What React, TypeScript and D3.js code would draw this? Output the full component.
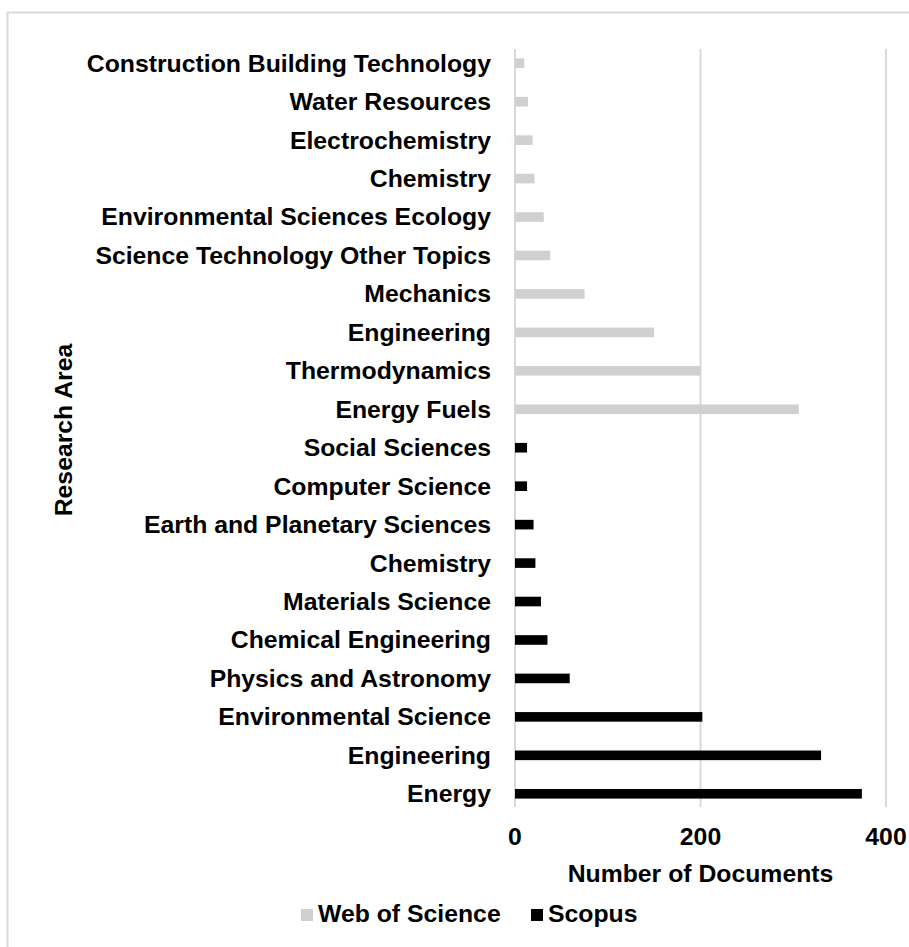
import React from 'react';
import * as d3 from 'd3';

// categories top to bottom
const wosAreas = [
    'Construction Building Technology',
    'Water Resources',
    'Electrochemistry',
    'Chemistry',
    'Environmental Sciences Ecology',
    'Science Technology Other Topics',
    'Mechanics',
    'Engineering',
    'Thermodynamics',
    'Energy Fuels',
];
const wosValues = [10, 14, 19, 21, 31, 38, 75, 150, 200, 306];

const scopusAreas = [
    'Social Sciences',
    'Computer Science',
    'Earth and Planetary Sciences',
    'Chemistry',
    'Materials Science',
    'Chemical Engineering',
    'Physics and Astronomy',
    'Environmental Science',
    'Engineering',
    'Energy',
];
const scopusValues = [13, 13, 20, 22, 28, 35, 59, 202, 330, 374];

const xTicks = [0, 200, 400];
const seriesNames = ['Web of Science', 'Scopus'];
const seriesColors = ['#d0d0d0', '#000000'];

const FONT = "'Liberation Sans', Arial, sans-serif";
const FS = 23.5;
const SX = 1.055; // the reference text is a bit wider than plain Arial

// bold text, slightly stretched along its own direction
const Label = ({ x, y, rotate = 0, anchor = 'start', dy = 0, children }) => (
    <text transform={`translate(${x},${y}) rotate(${rotate}) scale(${SX},1)`}
        dy={dy} textAnchor={anchor} fontSize={FS} fontWeight="bold">{children}</text>
);

const App = () => {
    const rows = [
        ...wosAreas.map((a, i) => ({ key: 'w' + i, label: a, value: wosValues[i], s: 0 })),
        ...scopusAreas.map((a, i) => ({ key: 's' + i, label: a, value: scopusValues[i], s: 1 })),
    ];

    const x = d3.scaleLinear().domain([0, 400]).range([515, 886]);
    const y = d3.scaleBand()
        .domain(rows.map(r => r.key))
        .range([44, 813])
        .paddingInner(0.75)
        .paddingOuter(0.375);

    const gridTop = 49, gridBottom = 807;

    return (
        <svg width={909} height={947} style={{ position: 'absolute', left: 0, top: 0, fontFamily: FONT }}>
            <rect x={7.5} y={12.5} width={960} height={960} fill="#fff" stroke="#d9d9d9" strokeWidth={2} />

            {/* gridlines */}
            {xTicks.map(t => (
                <line key={t} x1={x(t)} x2={x(t)} y1={gridTop} y2={gridBottom} stroke="#d9d9d9" strokeWidth={2} />
            ))}

            {/* bars */}
            {rows.map(r => (
                <rect key={r.key} x={x(0)} y={y(r.key)} width={x(r.value) - x(0)}
                    height={y.bandwidth()} fill={seriesColors[r.s]} />
            ))}

            {/* category labels */}
            {rows.map(r => (
                <Label key={'l' + r.key} x={491} y={y(r.key) + y.bandwidth() / 2} dy="0.36em" anchor="end">
                    {r.label}
                </Label>
            ))}

            {/* tick labels */}
            {xTicks.map(t => (
                <Label key={'t' + t} x={x(t)} y={845} anchor="middle">{t}</Label>
            ))}

            <Label x={(x(0) + x(400)) / 2} y={882} anchor="middle">Number of Documents</Label>
            <Label x={72} y={430} rotate={-90} anchor="middle">Research Area</Label>

            {/* legend */}
            <rect x={301} y={909} width={12} height={12} fill={seriesColors[0]} />
            <Label x={318} y={922}>{seriesNames[0]}</Label>
            <rect x={531} y={909} width={12} height={12} fill={seriesColors[1]} />
            <Label x={548} y={922}>{seriesNames[1]}</Label>
        </svg>
    );
};

export default App;
